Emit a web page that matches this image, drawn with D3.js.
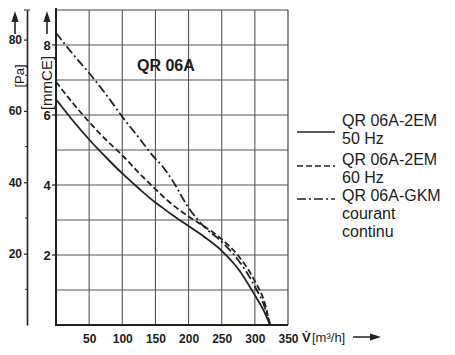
<!DOCTYPE html>
<html>
<head>
<meta charset="utf-8" />
<script src="https://cdn.jsdelivr.net/npm/d3@7"></script>
<style>
  body { margin: 0; background: #fff; }
  text { font-family: "Liberation Sans", Arial, sans-serif; fill: #1c1c1c; }
</style>
</head>
<body>
<script>
// flow in m3/h, pressure in mm CE
const flow   = [0, 25, 50, 75, 100, 125, 150, 160, 175, 200, 225, 250, 275, 300, 315, 323];
const em50hz = [6.45, 5.85, 5.3, 4.8, 4.33, 3.9, 3.5, 3.36, 3.15, 2.83, 2.5, 2.12, 1.6, 0.85, 0.35, 0];
const em60hz = [6.95, 6.35, 5.8, 5.3, 4.85, 4.35, 3.88, 3.7, 3.45, 3.1, 2.8, 2.45, 1.98, 1.25, 0.62, 0];
const gkm    = [8.35, 7.75, 7.2, 6.6, 5.95, 5.35, 4.75, 4.55, 4.15, 3.35, 2.78, 2.38, 1.85, 1.1, 0.5, 0];

const xTicks   = [50, 100, 150, 200, 250, 300, 350];
const mmTicks  = [2, 4, 6, 8];
const paTicks  = [20, 40, 60, 80];
const paMinor  = [10, 30, 50, 70];
const legendRows = [
  { lines: ["QR 06A-2EM", "50 Hz"], dash: null },
  { lines: ["QR 06A-2EM", "60 Hz"], dash: "6,3" },
  { lines: ["QR 06A-GKM", "courant", "continu"], dash: "9,3,2,3" }
];

const W = 455, H = 355;
const x = d3.scaleLinear().domain([0, 350]).range([56, 288]);
const y = d3.scaleLinear().domain([0, 9]).range([325, 10]);
const yPa = d3.scaleLinear().domain([0, 9 * 9.81]).range([325, 10]);

const svg = d3.select("body").append("svg")
  .attr("width", W).attr("height", H);

const ink = "#222";

// grid
svg.append("g").selectAll("line")
  .data(d3.range(50, 350, 50)).join("line")
  .attr("x1", d => x(d)).attr("x2", d => x(d))
  .attr("y1", y(9)).attr("y2", y(0))
  .attr("stroke", "#555").attr("stroke-width", 1.1);
svg.append("g").selectAll("line")
  .data(d3.range(1, 9)).join("line")
  .attr("x1", x(0)).attr("x2", x(350))
  .attr("y1", d => y(d)).attr("y2", d => y(d))
  .attr("stroke", "#555").attr("stroke-width", 1.1);

// frame
svg.append("line").attr("x1", x(0)).attr("x2", x(350)).attr("y1", y(9)).attr("y2", y(9))
  .attr("stroke", "#444").attr("stroke-width", 1.2);
svg.append("line").attr("x1", x(350)).attr("x2", x(350)).attr("y1", y(9)).attr("y2", y(0))
  .attr("stroke", "#444").attr("stroke-width", 1.2);
svg.append("line").attr("x1", x(0)).attr("x2", x(0)).attr("y1", y(9) - 2).attr("y2", y(0) + 1)
  .attr("stroke", ink).attr("stroke-width", 2);
svg.append("line").attr("x1", x(0)).attr("x2", x(350)).attr("y1", y(0)).attr("y2", y(0))
  .attr("stroke", ink).attr("stroke-width", 2);

// x tick labels
const xAxis = svg.append("g")
  .attr("transform", `translate(0,${y(0)})`)
  .call(d3.axisBottom(x).tickValues(xTicks).tickSize(0).tickPadding(9));
xAxis.select(".domain").remove();
xAxis.selectAll("text")
  .style("font-family", '"Liberation Sans", Arial, sans-serif')
  .style("font-size", "12px").style("font-weight", "bold").attr("fill", ink);

// x unit
svg.append("text").attr("x", 302).attr("y", 342)
  .style("font-size", "13px").style("font-weight", "bold").text("V\u0307");
svg.append("text").attr("x", 312).attr("y", 342)
  .style("font-size", "13px").text("[m\u00B3/h]");
svg.append("line").attr("x1", 353).attr("x2", 372).attr("y1", 337).attr("y2", 337)
  .attr("stroke", ink).attr("stroke-width", 1.5);
svg.append("path").attr("d", "M370,333.5L381,337L370,340.5Z").attr("fill", ink);

// mm CE axis labels and ticks
svg.append("g").selectAll("line")
  .data(mmTicks).join("line")
  .attr("x1", x(0) - 4).attr("x2", x(0))
  .attr("y1", d => y(d)).attr("y2", d => y(d))
  .attr("stroke", ink).attr("stroke-width", 1.2);
svg.append("g").selectAll("text")
  .data(mmTicks).join("text")
  .attr("x", 47).attr("y", d => y(d) + 4.5)
  .attr("text-anchor", "middle")
  .style("font-size", "13px").style("font-weight", "bold")
  .text(d => d);
svg.append("text")
  .attr("transform", "translate(52,83) rotate(-90)")
  .attr("text-anchor", "middle")
  .style("font-size", "15px")
  .text("[mmCE]");

// Pa axis
const paAxis = svg.append("g")
  .attr("transform", "translate(27,0)")
  .call(d3.axisLeft(yPa).tickValues(paTicks).tickSize(3).tickSizeOuter(0).tickPadding(2));
paAxis.select(".domain").attr("stroke", ink).attr("stroke-width", 1.6);
paAxis.selectAll(".tick line").attr("stroke", ink).attr("stroke-width", 1.2);
paAxis.selectAll("text")
  .style("font-family", '"Liberation Sans", Arial, sans-serif')
  .style("font-size", "12px").style("font-weight", "bold").attr("fill", ink);
svg.append("g").selectAll("line")
  .data(paMinor).join("line")
  .attr("x1", 25).attr("x2", 27)
  .attr("y1", d => yPa(d)).attr("y2", d => yPa(d))
  .attr("stroke", ink).attr("stroke-width", 1);
svg.append("line").attr("x1", 24).attr("x2", 30).attr("y1", 10).attr("y2", 10)
  .attr("stroke", ink).attr("stroke-width", 1);
svg.append("text")
  .attr("transform", "translate(24,76) rotate(-90)")
  .attr("text-anchor", "middle")
  .style("font-size", "13px")
  .text("[Pa]");

// up arrows
[15, 47].forEach(ax => {
  svg.append("line").attr("x1", ax).attr("x2", ax).attr("y1", 34).attr("y2", 20)
    .attr("stroke", ink).attr("stroke-width", 1.6);
  svg.append("path").attr("d", `M${ax - 3.5},22L${ax},11L${ax + 3.5},22Z`).attr("fill", ink);
});

// title
svg.append("text").attr("x", 137).attr("y", 71)
  .style("font-size", "16px").style("font-weight", "bold")
  .text("QR 06A");

// curves
const line = d3.line()
  .x(d => x(d[0])).y(d => y(d[1]))
  .curve(d3.curveMonotoneX);
const series = [
  { values: em50hz, dash: null },
  { values: em60hz, dash: "6,3" },
  { values: gkm, dash: "9,3,2,3" }
];
series.forEach(s => {
  svg.append("path")
    .datum(flow.map((f, i) => [f, s.values[i]]))
    .attr("d", line)
    .attr("fill", "none")
    .attr("stroke", ink)
    .attr("stroke-width", 1.8)
    .attr("stroke-dasharray", s.dash);
});

// legend
const rowTop = [126, 165, 201];
const lineY = [132, 166, 199];
legendRows.forEach((r, i) => {
  svg.append("line")
    .attr("x1", 297).attr("x2", 335)
    .attr("y1", lineY[i]).attr("y2", lineY[i])
    .attr("stroke", ink).attr("stroke-width", 1.6)
    .attr("stroke-dasharray", r.dash);
  r.lines.forEach((t, j) => {
    svg.append("text")
      .attr("x", 342).attr("y", rowTop[i] + j * 18)
      .style("font-size", "16px")
      .text(t);
  });
});
</script>
</body>
</html>
